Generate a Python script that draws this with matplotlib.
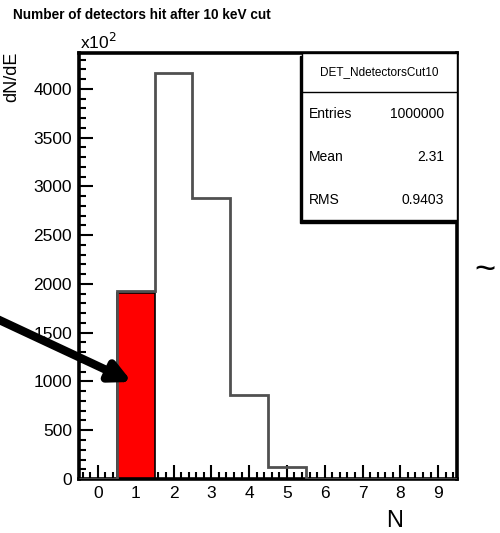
import numpy as np
import matplotlib
matplotlib.use('Agg')
import matplotlib.pyplot as plt
from matplotlib.patches import Rectangle
from matplotlib.ticker import MultipleLocator

plt.rcParams['font.family'] = ['Liberation Sans', 'DejaVu Sans']

# histogram content, in units of 10^2
bin_centers = [0, 1, 2, 3, 4, 5, 6, 7, 8, 9]
counts = [0, 1925, 4160, 2880, 860, 120, 0, 0, 0, 0]
highlight_bin = 1
highlight_height = 1910
x_ticks = [0, 1, 2, 3, 4, 5, 6, 7, 8, 9]
y_ticks = [0, 500, 1000, 1500, 2000, 2500, 3000, 3500, 4000]

stat_title = 'DET_NdetectorsCut10'
stat_names = ['Entries', 'Mean', 'RMS']
stat_values = ['1000000', '2.31', '0.9403']

fig = plt.figure(figsize=(5, 5.33), dpi=100)
ax = fig.add_axes([0.158, 0.1013, 0.756, 0.7993])

edges = np.arange(len(bin_centers) + 1) - 0.5
ax.bar(highlight_bin, highlight_height, width=1.0, color='#ff0000',
       edgecolor='black', linewidth=1.2, zorder=2)
ax.stairs(counts, edges, color='#505050', linewidth=2.0, zorder=3)

ax.set_xlim(-0.5, 9.5)
ax.set_ylim(0, 4368)
ax.set_xticks(x_ticks)
ax.set_yticks(y_ticks)
ax.xaxis.set_minor_locator(MultipleLocator(0.2))
ax.yaxis.set_minor_locator(MultipleLocator(100))
ax.tick_params(which='both', direction='in', top=False, right=False,
               width=1.5, labelsize=12.5, color='black')
ax.tick_params(which='major', length=10, pad=5)
ax.tick_params(which='minor', length=5)
for s in ax.spines.values():
    s.set_linewidth(2.6)

# stat box, shadow to the lower left
ax.add_patch(Rectangle((0.584, 0.602), 0.41, 0.392, transform=ax.transAxes,
                       facecolor='black', edgecolor='black', zorder=4, clip_on=False))
ax.add_patch(Rectangle((0.59, 0.608), 0.41, 0.392, transform=ax.transAxes,
                       facecolor='white', edgecolor='black', linewidth=1.0,
                       zorder=5, clip_on=False))
ax.plot([0.59, 1.0], [0.908, 0.908], transform=ax.transAxes, color='black',
        linewidth=1.0, zorder=6)
ax.text(0.795, 0.955, stat_title, transform=ax.transAxes, ha='center',
        va='center', fontsize=8.5, zorder=7)
for i, (nm, vl) in enumerate(zip(stat_names, stat_values)):
    yy = 0.857 - i * 0.101
    ax.text(0.608, yy, nm, transform=ax.transAxes, ha='left', va='center',
            fontsize=10, zorder=7)
    ax.text(0.966, yy, vl, transform=ax.transAxes, ha='right', va='center',
            fontsize=10, zorder=7)

# labels around the frame
fig.text(0.026, 1 - 15 / 533, 'Number of detectors hit after 10 keV cut',
         ha='left', va='center', fontsize=9.8, fontweight='bold')
fig.text(80 / 500, 1 - 42 / 533, r'x10$^2$', ha='left', va='center', fontsize=12.5)
fig.text(12 / 500, 1 - 77 / 533, 'dN/dE', ha='center', va='center',
         rotation=90, fontsize=13)
fig.text(395 / 500, 1 - 521 / 533, 'N', ha='center', va='center', fontsize=17)
fig.text(485 / 500, 1 - 270 / 533, '~', ha='center', va='center', fontsize=26)

# arrow pointing at the red bin
ax.annotate('', xy=(0.9, 995), xycoords='data',
            xytext=(-0.01, 1 - 318 / 533), textcoords='figure fraction',
            arrowprops=dict(arrowstyle='-|>', color='black', lw=6,
                            mutation_scale=30, shrinkA=0, shrinkB=0),
            annotation_clip=False, zorder=8)

fig.savefig('out.png', dpi=100)
